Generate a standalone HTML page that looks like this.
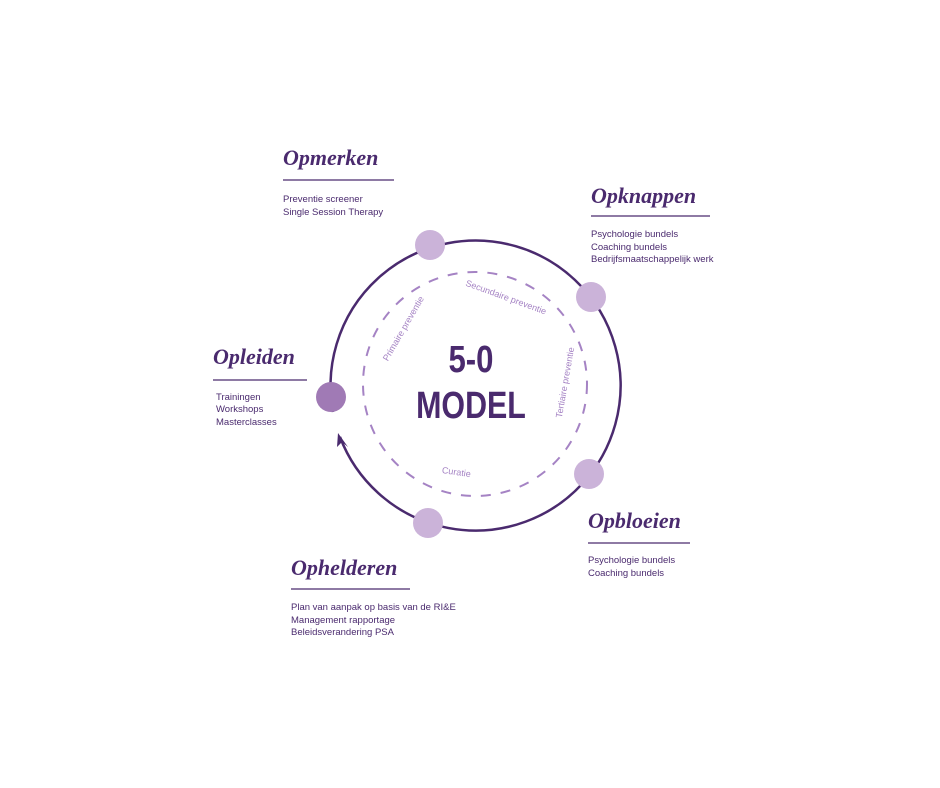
<!DOCTYPE html>
<html><head><meta charset="utf-8"><style>
html,body{margin:0;padding:0;background:#fff;}
svg{display:block}
.h{font-family:"Liberation Serif",serif;font-style:italic;font-weight:bold;font-size:22px;fill:#4a2a6e;}
.b{font-family:"Liberation Sans",sans-serif;font-size:9.5px;fill:#4a2a6e;}
.d{font-family:"Liberation Sans",sans-serif;font-size:9px;fill:#a583c4;}
.m{font-family:"Liberation Sans Narrow","Liberation Sans",sans-serif;font-weight:bold;font-size:38px;fill:#4a2a6e;}
</style></head><body>
<svg width="940" height="788" viewBox="0 0 940 788" xmlns="http://www.w3.org/2000/svg">
<circle cx="475" cy="384" r="112" fill="none" stroke="#a583c4" stroke-width="2" stroke-dasharray="10 10"/>
<path d="M 333 412 A 145 145 0 1 1 340 437" fill="none" stroke="#4a2a6e" stroke-width="2.5"/>
<polygon points="338,433 337,447 342,442 348,447" fill="#4a2a6e"/>
<circle cx="430" cy="245" r="15" fill="#cbb3d9"/>
<circle cx="591" cy="297" r="15" fill="#cbb3d9"/>
<circle cx="331" cy="397" r="15" fill="#a07ab5"/>
<circle cx="589" cy="474" r="15" fill="#cbb3d9"/>
<circle cx="428" cy="523" r="15" fill="#cbb3d9"/>
<text class="m" x="471" y="372" text-anchor="middle" transform="translate(471 0) scale(0.82 1) translate(-471 0)">5-0</text>
<text class="m" x="471" y="418" text-anchor="middle" transform="translate(471 0) scale(0.8 1) translate(-471 0)">MODEL</text>
<text class="d" x="505" y="300" text-anchor="middle" transform="rotate(20 505 300)">Secundaire preventie</text>
<text class="d" x="406" y="330" text-anchor="middle" transform="rotate(-60 406 330)">Primaire preventie</text>
<text class="d" x="568" y="383" text-anchor="middle" transform="rotate(-80 568 383)">Tertiaire preventie</text>
<text class="d" x="456" y="475" text-anchor="middle" transform="rotate(8 456 475)">Curatie</text>
<text class="h" x="283" y="165">Opmerken</text>
<line x1="283" y1="180" x2="394" y2="180" stroke="#4a2a6e" stroke-width="1.3"/>
<text class="b" x="283" y="202">Preventie screener</text>
<text class="b" x="283" y="215">Single Session Therapy</text>
<text class="h" x="591" y="203">Opknappen</text>
<line x1="591" y1="216" x2="710" y2="216" stroke="#4a2a6e" stroke-width="1.3"/>
<text class="b" x="591" y="237">Psychologie bundels</text>
<text class="b" x="591" y="250">Coaching bundels</text>
<text class="b" x="591" y="262">Bedrijfsmaatschappelijk werk</text>
<text class="h" x="213" y="364">Opleiden</text>
<line x1="213" y1="380" x2="307" y2="380" stroke="#4a2a6e" stroke-width="1.3"/>
<text class="b" x="216" y="400">Trainingen</text>
<text class="b" x="216" y="412">Workshops</text>
<text class="b" x="216" y="425">Masterclasses</text>
<text class="h" x="588" y="528">Opbloeien</text>
<line x1="588" y1="543" x2="690" y2="543" stroke="#4a2a6e" stroke-width="1.3"/>
<text class="b" x="588" y="563">Psychologie bundels</text>
<text class="b" x="588" y="576">Coaching bundels</text>
<text class="h" x="291" y="575">Ophelderen</text>
<line x1="291" y1="589" x2="410" y2="589" stroke="#4a2a6e" stroke-width="1.3"/>
<text class="b" x="291" y="610">Plan van aanpak op basis van de RI&amp;E</text>
<text class="b" x="291" y="623">Management rapportage</text>
<text class="b" x="291" y="635">Beleidsverandering PSA</text>
</svg>
</body></html>
